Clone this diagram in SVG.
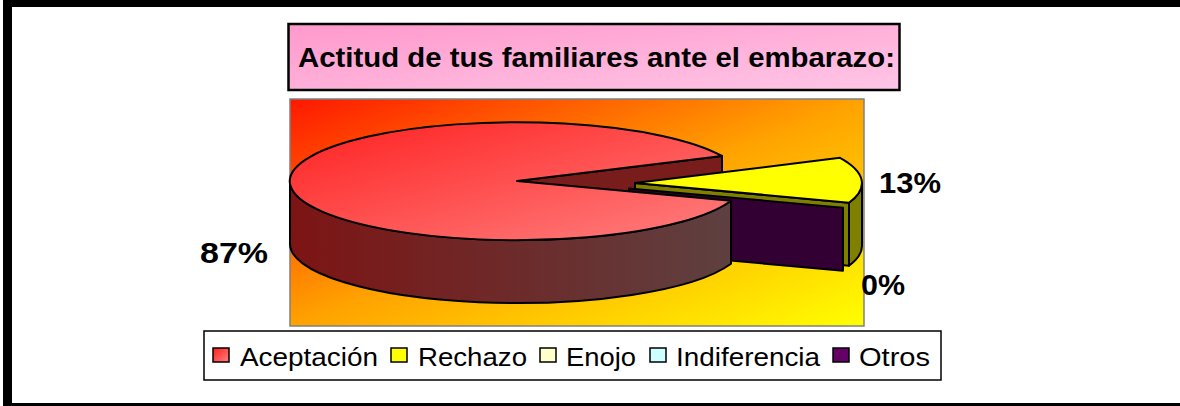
<svg xmlns="http://www.w3.org/2000/svg" width="1180" height="406" viewBox="0 0 1180 406">
  <defs>
    <linearGradient id="gTitle" x1="0" y1="0" x2="1" y2="1">
      <stop offset="0" stop-color="#ff99cc"/>
      <stop offset="1" stop-color="#ffc6e6"/>
    </linearGradient>
    <linearGradient id="gPlot" x1="0" y1="0" x2="1" y2="1">
      <stop offset="0" stop-color="#ff1800"/>
      <stop offset="0.5" stop-color="#ffa200"/>
      <stop offset="1" stop-color="#ffff00"/>
    </linearGradient>
    <linearGradient id="gTop" x1="0" y1="0" x2="1" y2="1">
      <stop offset="0" stop-color="#ff2020"/>
      <stop offset="1" stop-color="#ff8080"/>
    </linearGradient>
    <linearGradient id="gSide" x1="0" y1="0" x2="1" y2="0">
      <stop offset="0" stop-color="#7d1414"/>
      <stop offset="1" stop-color="#5e4040"/>
    </linearGradient>
    <linearGradient id="gLeg" x1="0" y1="0" x2="1" y2="1">
      <stop offset="0" stop-color="#ff2020"/>
      <stop offset="1" stop-color="#ff8080"/>
    </linearGradient>
    <style>
      .pie { stroke: #000; stroke-width: 2; stroke-linejoin: round; }
      .lbl { font-family: "Liberation Sans", Arial, sans-serif; font-weight: bold; font-size: 30px; fill: #000; }
      .leg { font-family: "Liberation Sans", Arial, sans-serif; font-size: 26px; fill: #000; }
      .sq { stroke: #000; stroke-width: 1.5; }
    </style>
  </defs>

  <!-- page frame -->
  <rect x="0" y="0" width="1180" height="406" fill="#ffffff"/>
  <rect x="3" y="0" width="1177" height="7" fill="#000"/>
  <rect x="3" y="0" width="9" height="406" fill="#000"/>
  <rect x="3" y="403" width="1177" height="3" fill="#000"/>

  <!-- title -->
  <g id="title">
    <rect x="288.5" y="24" width="611" height="66" fill="url(#gTitle)" stroke="#000" stroke-width="2.5"/>
    <text x="298" y="67" class="lbl" style="font-size:28px" textLength="597" lengthAdjust="spacingAndGlyphs">Actitud de tus familiares ante el embarazo:</text>
  </g>

  <!-- plot area -->
  <g id="plot">
    <rect x="290" y="99" width="574" height="227" fill="url(#gPlot)" stroke="#808080" stroke-width="1.5"/>
  </g>

  <!-- pie -->
  <g id="pie">
    <polygon class="pie" points="517,181 722,156 722,219 517,244" fill="#781c1c"/>
    <polygon class="pie" points="635,183 849,202.7 849,265.7 635,246" fill="#808000"/>
    <path class="pie" d="M 862 183 A 227 59 0 0 1 849 202.7 L 849 265.7 A 227 59 0 0 0 862 246 Z" fill="#808000"/>
    <path class="pie" d="M 635 183 L 840 157.8 A 227 59 0 0 1 849 202.7 Z" fill="#ffff00"/>
    <polygon class="pie" points="629,188.5 843,207.7 843,270.7 629,251.5" fill="#330033"/>
    <path class="pie" d="M 290 181 A 227 59 0 0 0 731 200.7 L 731 263.7 A 227 59 0 0 1 290 244 Z" fill="url(#gSide)"/>
    <path class="pie" d="M 517 181 L 722 156 A 227 59 0 1 0 731 200.7 Z" fill="url(#gTop)"/>
  </g>

  <!-- data labels -->
  <g id="labels">
    <text x="200" y="263" class="lbl" textLength="68" lengthAdjust="spacingAndGlyphs">87%</text>
    <text x="879" y="193" class="lbl" textLength="62" lengthAdjust="spacingAndGlyphs">13%</text>
    <text x="861" y="295" class="lbl" textLength="44" lengthAdjust="spacingAndGlyphs">0%</text>
  </g>

  <!-- legend -->
  <g id="legend">
    <rect x="204" y="331" width="737" height="49" fill="#ffffff" stroke="#000" stroke-width="1.5"/>
    <rect class="sq" x="213" y="348" width="16" height="14" fill="url(#gLeg)"/>
    <text class="leg" x="240" y="366" textLength="138" lengthAdjust="spacingAndGlyphs">Aceptación</text>
    <rect class="sq" x="391" y="348" width="16" height="14" fill="#ffff00"/>
    <text class="leg" x="418" y="366" textLength="109" lengthAdjust="spacingAndGlyphs">Rechazo</text>
    <rect class="sq" x="540" y="348" width="16" height="14" fill="#ffffcc"/>
    <text class="leg" x="566" y="366" textLength="70" lengthAdjust="spacingAndGlyphs">Enojo</text>
    <rect class="sq" x="650" y="348" width="16" height="14" fill="#ccffff"/>
    <text class="leg" x="676" y="366" textLength="144" lengthAdjust="spacingAndGlyphs">Indiferencia</text>
    <rect class="sq" x="833" y="348" width="16" height="14" fill="#660066"/>
    <text class="leg" x="859" y="366" textLength="71" lengthAdjust="spacingAndGlyphs">Otros</text>
  </g>
</svg>
